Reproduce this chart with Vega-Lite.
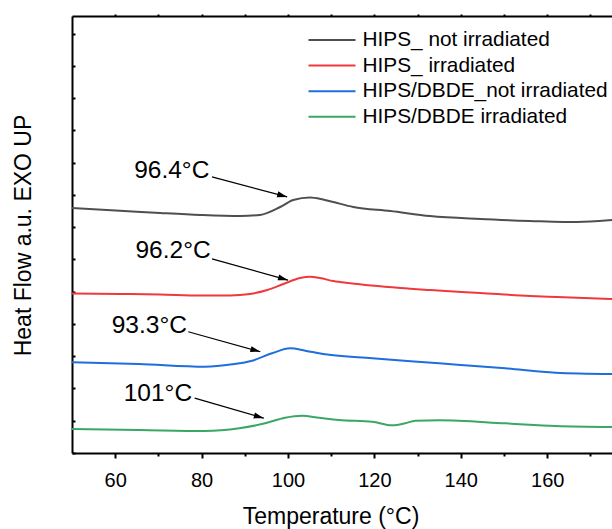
{
  "$schema": "https://vega.github.io/schema/vega-lite/v6.json",
  "width": 540,
  "height": 437,
  "autosize": {"type": "none"},
  "padding": {"left": 72, "top": 16, "right": 0, "bottom": 76},
  "config": {
    "view": {"stroke": null},
    "font": "Liberation Sans",
    "axisY": {
      "values": [0, 1, 2, 3, 4, 5, 6],
      "labels": false,
      "tickSize": -3, "tickWidth": 2, "tickColor": "black",
      "domainColor": "black", "domainWidth": 2,
      "grid": false,
      "titleFontSize": 23, "titleFontWeight": "normal", "titleColor": "black",
      "titleAngle": 270, "titleX": -49, "titleY": 219, "titleBaseline": "middle", "titleAlign": "center"
    }
  },
  "datasets": {
    "curves": [
      {"series": "HIPS_ not irradiated", "T": 50.0, "v": 3.798},
      {"series": "HIPS_ not irradiated", "T": 61.1, "v": 3.757},
      {"series": "HIPS_ not irradiated", "T": 70.4, "v": 3.721},
      {"series": "HIPS_ not irradiated", "T": 79.7, "v": 3.690},
      {"series": "HIPS_ not irradiated", "T": 88.9, "v": 3.674},
      {"series": "HIPS_ not irradiated", "T": 93.5, "v": 3.690},
      {"series": "HIPS_ not irradiated", "T": 98.2, "v": 3.814},
      {"series": "HIPS_ not irradiated", "T": 101.2, "v": 3.922},
      {"series": "HIPS_ not irradiated", "T": 105.1, "v": 3.961},
      {"series": "HIPS_ not irradiated", "T": 108.1, "v": 3.930},
      {"series": "HIPS_ not irradiated", "T": 110.5, "v": 3.891},
      {"series": "HIPS_ not irradiated", "T": 115.1, "v": 3.814},
      {"series": "HIPS_ not irradiated", "T": 123.7, "v": 3.752},
      {"series": "HIPS_ not irradiated", "T": 132.9, "v": 3.674},
      {"series": "HIPS_ not irradiated", "T": 144.5, "v": 3.628},
      {"series": "HIPS_ not irradiated", "T": 156.1, "v": 3.597},
      {"series": "HIPS_ not irradiated", "T": 163.7, "v": 3.581},
      {"series": "HIPS_ not irradiated", "T": 170.0, "v": 3.589},
      {"series": "HIPS_ not irradiated", "T": 175.1, "v": 3.612},
      {"series": "HIPS_ irradiated", "T": 50.0, "v": 2.473},
      {"series": "HIPS_ irradiated", "T": 61.1, "v": 2.465},
      {"series": "HIPS_ irradiated", "T": 70.4, "v": 2.457},
      {"series": "HIPS_ irradiated", "T": 79.7, "v": 2.442},
      {"series": "HIPS_ irradiated", "T": 86.6, "v": 2.442},
      {"series": "HIPS_ irradiated", "T": 91.2, "v": 2.465},
      {"series": "HIPS_ irradiated", "T": 95.2, "v": 2.527},
      {"series": "HIPS_ irradiated", "T": 98.9, "v": 2.620},
      {"series": "HIPS_ irradiated", "T": 102.8, "v": 2.713},
      {"series": "HIPS_ irradiated", "T": 105.1, "v": 2.733},
      {"series": "HIPS_ irradiated", "T": 107.4, "v": 2.713},
      {"series": "HIPS_ irradiated", "T": 110.5, "v": 2.665},
      {"series": "HIPS_ irradiated", "T": 114.4, "v": 2.630},
      {"series": "HIPS_ irradiated", "T": 126.0, "v": 2.558},
      {"series": "HIPS_ irradiated", "T": 132.9, "v": 2.527},
      {"series": "HIPS_ irradiated", "T": 144.5, "v": 2.481},
      {"series": "HIPS_ irradiated", "T": 156.1, "v": 2.434},
      {"series": "HIPS_ irradiated", "T": 162.3, "v": 2.419},
      {"series": "HIPS_ irradiated", "T": 175.1, "v": 2.388},
      {"series": "HIPS/DBDE_not irradiated", "T": 50.0, "v": 1.406},
      {"series": "HIPS/DBDE_not irradiated", "T": 65.5, "v": 1.380},
      {"series": "HIPS/DBDE_not irradiated", "T": 80.8, "v": 1.338},
      {"series": "HIPS/DBDE_not irradiated", "T": 87.1, "v": 1.375},
      {"series": "HIPS/DBDE_not irradiated", "T": 91.7, "v": 1.431},
      {"series": "HIPS/DBDE_not irradiated", "T": 96.3, "v": 1.546},
      {"series": "HIPS/DBDE_not irradiated", "T": 100.5, "v": 1.623},
      {"series": "HIPS/DBDE_not irradiated", "T": 104.0, "v": 1.586},
      {"series": "HIPS/DBDE_not irradiated", "T": 108.6, "v": 1.530},
      {"series": "HIPS/DBDE_not irradiated", "T": 119.5, "v": 1.468},
      {"series": "HIPS/DBDE_not irradiated", "T": 135.0, "v": 1.391},
      {"series": "HIPS/DBDE_not irradiated", "T": 150.3, "v": 1.313},
      {"series": "HIPS/DBDE_not irradiated", "T": 161.9, "v": 1.245},
      {"series": "HIPS/DBDE_not irradiated", "T": 175.1, "v": 1.225},
      {"series": "HIPS/DBDE irradiated", "T": 50.0, "v": 0.372},
      {"series": "HIPS/DBDE irradiated", "T": 65.5, "v": 0.357},
      {"series": "HIPS/DBDE irradiated", "T": 80.8, "v": 0.341},
      {"series": "HIPS/DBDE irradiated", "T": 88.7, "v": 0.383},
      {"series": "HIPS/DBDE irradiated", "T": 94.7, "v": 0.460},
      {"series": "HIPS/DBDE irradiated", "T": 99.3, "v": 0.547},
      {"series": "HIPS/DBDE irradiated", "T": 103.3, "v": 0.578},
      {"series": "HIPS/DBDE irradiated", "T": 107.2, "v": 0.547},
      {"series": "HIPS/DBDE irradiated", "T": 111.8, "v": 0.512},
      {"series": "HIPS/DBDE irradiated", "T": 119.5, "v": 0.485},
      {"series": "HIPS/DBDE irradiated", "T": 124.1, "v": 0.429},
      {"series": "HIPS/DBDE irradiated", "T": 127.1, "v": 0.460},
      {"series": "HIPS/DBDE irradiated", "T": 129.5, "v": 0.501},
      {"series": "HIPS/DBDE irradiated", "T": 135.0, "v": 0.507},
      {"series": "HIPS/DBDE irradiated", "T": 150.3, "v": 0.460},
      {"series": "HIPS/DBDE irradiated", "T": 161.9, "v": 0.419},
      {"series": "HIPS/DBDE irradiated", "T": 175.1, "v": 0.403}
    ],
    "notes": [
      {"label": "96.4°C", "tx": 81.8, "ty": 4.37, "x1": 82.4, "y1": 4.28, "x2": 99.8, "y2": 3.97},
      {"label": "96.2°C", "tx": 82.1, "ty": 3.13, "x1": 82.4, "y1": 3.01, "x2": 100.0, "y2": 2.68},
      {"label": "93.3°C", "tx": 76.6, "ty": 1.97, "x1": 76.9, "y1": 1.88, "x2": 93.6, "y2": 1.57},
      {"label": "101°C", "tx": 77.8, "ty": 0.92, "x1": 78.4, "y1": 0.85, "x2": 94.4, "y2": 0.54}
    ]
  },
  "resolve": {"axis": {"x": "independent"}},
  "layer": [
    {
      "data": {"name": "curves"},
      "mark": {"type": "line", "strokeWidth": 2, "clip": true, "interpolate": "monotone"},
      "encoding": {
        "x": {
          "field": "T", "type": "quantitative",
          "scale": {"domain": [50, 175], "nice": false, "zero": false},
          "axis": {
            "orient": "bottom",
            "values": [60, 70, 80, 90, 100, 110, 120, 130, 140, 150, 160, 170],
            "labelExpr": "datum.value % 20 === 0 ? datum.label : ''",
            "tickSize": {"condition": {"test": "datum.value % 20 === 0", "value": 5}, "value": 3},
            "tickWidth": 2, "tickColor": "black",
            "domainColor": "black", "domainWidth": 2,
            "grid": false,
            "labelFontSize": 20, "labelColor": "black", "labelPadding": 12, "labelFlush": false,
            "title": "Temperature (°C)", "titleFontSize": 23, "titleFontWeight": "normal", "titleColor": "black",
            "titleX": 258.5, "titleY": 70, "titleBaseline": "alphabetic", "titleAlign": "center"
          }
        },
        "y": {
          "field": "v", "type": "quantitative",
          "scale": {"domain": [0, 6.775], "nice": false, "zero": false},
          "title": "Heat Flow a.u. EXO UP"
        },
        "color": {
          "field": "series", "type": "nominal",
          "scale": {
            "domain": ["HIPS_ not irradiated", "HIPS_ irradiated", "HIPS/DBDE_not irradiated", "HIPS/DBDE irradiated"],
            "range": ["#4f4f4f", "#f0393c", "#1e6fdc", "#3aa865"]
          },
          "legend": {
            "orient": "none", "legendX": 249, "legendY": 13,
            "title": null,
            "symbolType": "M-2.35,0L2.35,0", "symbolSize": 400, "symbolStrokeWidth": 2,
            "labelFontSize": 20.8, "labelColor": "black", "labelLimit": 0, "labelOffset": 19.5,
            "rowPadding": 4.6
          }
        }
      }
    },
    {
      "data": {"name": "notes"},
      "mark": {"type": "rule", "strokeWidth": 1.2, "color": "black"},
      "encoding": {
        "x": {
          "field": "x1", "type": "quantitative",
          "axis": {
            "orient": "top",
            "values": [60, 70, 80, 90, 100, 110, 120, 130, 140, 150, 160, 170],
            "labels": false, "tickSize": 2, "tickWidth": 2, "tickColor": "black",
            "domainColor": "black", "domainWidth": 2, "grid": false, "title": null
          }
        },
        "y": {"field": "y1", "type": "quantitative", "title": "Heat Flow a.u. EXO UP"},
        "x2": {"field": "x2"},
        "y2": {"field": "y2"}
      }
    },
    {
      "data": {"name": "notes"},
      "mark": {"type": "point", "shape": "M0,0L-2,-0.6L-2,0.6Z", "size": 100, "filled": true, "color": "black", "opacity": 1, "angle": 15.5},
      "encoding": {
        "x": {"field": "x2", "type": "quantitative", "axis": null},
        "y": {"field": "y2", "type": "quantitative", "title": "Heat Flow a.u. EXO UP"}
      }
    },
    {
      "data": {"name": "notes"},
      "mark": {"type": "text", "align": "right", "baseline": "middle", "fontSize": 24.5, "color": "black"},
      "encoding": {
        "x": {"field": "tx", "type": "quantitative", "axis": null},
        "y": {"field": "ty", "type": "quantitative", "title": "Heat Flow a.u. EXO UP"},
        "text": {"field": "label"}
      }
    }
  ]
}
